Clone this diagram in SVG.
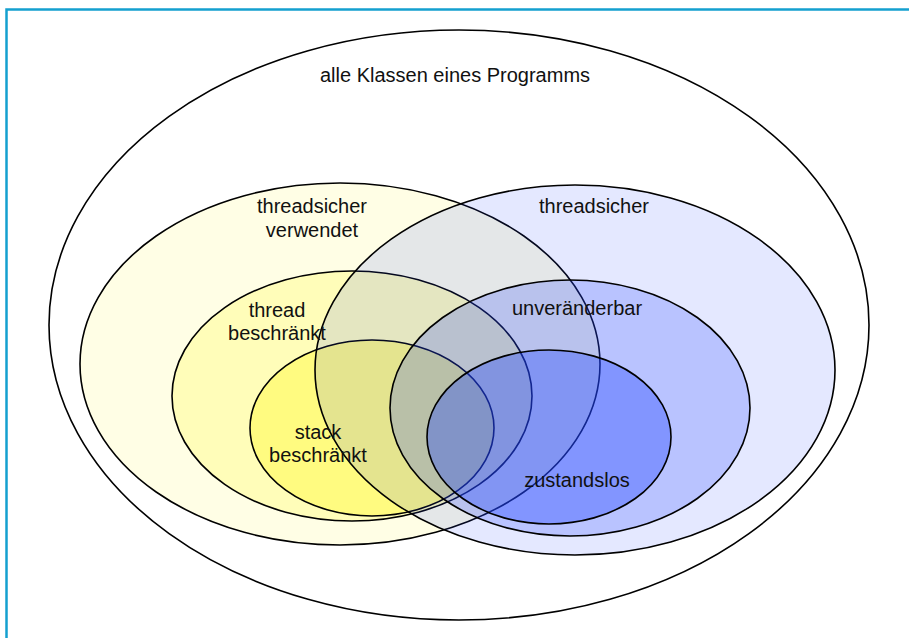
<svg xmlns="http://www.w3.org/2000/svg" width="909" height="638" viewBox="0 0 909 638">
<style>
  .e { stroke: #000; stroke-width: 1.6; }
  .b { fill: #2244ff; }
  text { font-family: "Liberation Sans", Arial, sans-serif; font-size: 20px; fill: #111; text-anchor: middle; }
</style>
<rect x="0" y="0" width="909" height="638" fill="#fff"/>
<rect x="6.5" y="9.5" width="920" height="650" fill="none" stroke="#14a0cf" stroke-width="2.5"/>
<g id="alle">
  <ellipse class="e" cx="459" cy="325" rx="410" ry="295" fill="#fff"/>
</g>
<g id="threadsicher-verwendet">
  <ellipse class="e" cx="340" cy="364" rx="260" ry="181" fill="#fffee5"/>
</g>
<g id="thread-beschraenkt">
  <ellipse class="e" cx="352" cy="396" rx="180" ry="125" fill="#fffdb9"/>
</g>
<g id="stack-beschraenkt">
  <ellipse class="e" cx="372" cy="428" rx="122" ry="88" fill="#fffb80"/>
</g>
<g id="threadsicher">
  <ellipse class="e b" cx="575" cy="370" rx="260" ry="185" fill-opacity="0.122"/>
</g>
<g id="unveraenderbar">
  <ellipse class="e b" cx="570" cy="408" rx="180" ry="128" fill-opacity="0.225"/>
</g>
<g id="zustandslos">
  <ellipse class="e b" cx="549" cy="437" rx="122" ry="87" fill-opacity="0.36"/>
</g>
<g id="labels">
  <text x="455" y="82">alle Klassen eines Programms</text>
  <text x="312" y="213">threadsicher</text>
  <text x="312" y="237">verwendet</text>
  <text x="594" y="213">threadsicher</text>
  <text x="277" y="317">thread</text>
  <text x="277" y="340">beschränkt</text>
  <text x="577" y="315">unveränderbar</text>
  <text x="318" y="439">stack</text>
  <text x="318" y="462">beschränkt</text>
  <text x="577" y="487">zustandslos</text>
</g>
<g id="connectors"></g>
</svg>
